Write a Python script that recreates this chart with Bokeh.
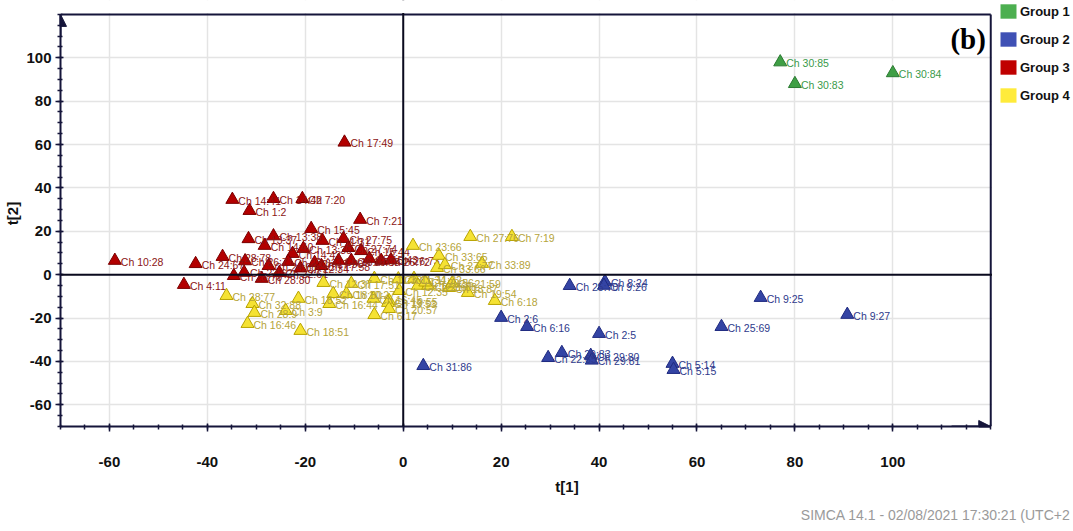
from bokeh.plotting import figure
from bokeh.models import (Range1d, FixedTicker, Span, Label, Legend, LegendItem,
                          Arrow, NormalHead, ColumnDataSource, Title, BoxAnnotation)
from bokeh.core.properties import value
from bokeh.embed import file_html
from bokeh.resources import INLINE

NAN = float("nan")

# ---------------- data ----------------
g1_x = [77.0, 80.0, 100.0]
g1_y = [98.0, 88.0, 93.0]
g1_labels = ["Ch 30:85", "Ch 30:83", "Ch 30:84"]

g2_x = [34.0, 41.2, 41.0, 20.0, 25.3, 40.0, 29.6, 32.4, 38.3, 38.5, 4.1, 55.0, 55.2, 73.0, 65.0, 90.7]
g2_y = [-5.1, -3.2, -5.0, -19.8, -24.0, -27.2, -38.3, -36.0, -37.3, -39.5, -42.0, -41.0, -43.8, -10.6, -24.0, -18.4]
g2_labels = ["Ch 25:70", "Ch 8:24", "Ch 9:26", "Ch 2:6", "Ch 6:16", "Ch 2:5", "Ch 22:65", "Ch 29:83",
             "Ch 29:80", "Ch 29:81", "Ch 31:86", "Ch 5:14", "Ch 5:15", "Ch 9:25", "Ch 25:69", "Ch 9:27"]

g3_x = [-58.9, -44.8, -42.4, -36.9, -34.6, -32.5, -32.3, -31.6, -34.9, -26.5, -20.6, -31.4, -8.8, -12.0,
        -18.8, -26.5, -28.3, -28.9, -27.5, -25.3, -22.6, -20.4, -16.5, -18.1, -16.7, -13.2, -12.2, -11.2,
        -10.6, -8.6, -6.9, -4.5, -2.5, -21.0, -23.5]
g3_y = [6.5, -4.6, 5.0, 8.3, -0.5, 1.0, 6.3, 16.5, 34.6, 35.0, 35.0, 29.5, 25.4, 61.0,
        21.2, 17.8, 13.4, -1.8, 4.1, 0.9, 9.7, 12.0, 15.7, 5.5, 4.1, 6.5, 16.6, 12.4,
        6.5, 11.0, 7.4, 6.5, 6.8, 3.0, 6.0]
g3_labels = ["Ch 10:28", "Ch 4:11", "Ch 24:67", "Ch 28:78", "Ch 28:79", "Ch 23:62", "Ch 26:71", "Ch 13:37",
             "Ch 14:41", "Ch 14:42", "Ch 7:20", "Ch 1:2", "Ch 7:21", "Ch 17:49", "Ch 15:45", "Ch 13:38",
             "Ch 14:40", "Ch 28:80", "Ch 24:68", "Ch 22:61", "Ch 14:43", "Ch 13:39", "Ch 11:31", "Ch 17:50",
             "Ch 17:58", "Ch 16:47", "Ch 27:75", "Ch 27:74", "Ch 16:48", "Ch 15:44", "Ch 15:43", "Ch 26:72",
             "Ch 26:73", "Ch 12:34", "Ch 23:63"]

g4_x = [2.0, 13.7, 22.2, 7.3, 6.9, 16.1, 8.5, 2.2, 3.0, 5.1, 9.4, 13.2, 18.7, -5.9, -0.8, -6.1, -2.9,
        -5.9, -36.1, -30.8, -30.4, -31.8, -24.0, -21.4, -21.0, -16.3, -15.1, -14.3, -11.6, -10.6, -3.1,
        -2.9, 10.0, 4.5, -1.0]
g4_y = [13.4, 17.5, 17.5, 8.8, 3.2, 5.1, 4.5, -1.8, -5.0, -5.0, -6.0, -8.3, -12.0, -1.8, -7.4, -11.0, -12.0,
        -18.5, -9.7, -13.4, -17.5, -22.6, -16.6, -11.0, -25.8, -3.7, -13.4, -8.8, -8.8, -4.1, -12.9,
        -15.7, -4.0, -3.5, -2.0]
g4_labels = ["Ch 23:66", "Ch 27:76", "Ch 7:19", "Ch 33:65", "Ch 33:66", "Ch 33:89", "Ch 27:77", "Ch 11:32",
             "Ch 12:36", "Ch 21:58", "Ch 18:87", "Ch 19:54", "Ch 6:18", "Ch 11:33", "Ch 12:35", "Ch 16:45",
             "Ch 19:55", "Ch 6:17", "Ch 28:77", "Ch 32:88", "Ch 28:9", "Ch 16:46", "Ch 3:9", "Ch 18:52",
             "Ch 18:51", "Ch 12:37", "Ch 16:44", "Ch 18:50", "Ch 10:27", "Ch 17:51", "Ch 19:53", "Ch 20:57",
             "Ch 21:59", "Ch 20:56", "Ch 11:34"]

group_names = ["Group 1", "Group 2", "Group 3", "Group 4"]
x_ticks = [-60, -40, -20, 0, 20, 40, 60, 80, 100]
y_ticks = [-60, -40, -20, 0, 20, 40, 60, 80, 100]
x_lo, x_hi = -70, 120   # axis extent
y_lo, y_hi = -70, 120
footer_text = "SIMCA 14.1 - 02/08/2021 17:30:21 (UTC+2"

# ---------------- styling ----------------
FONT = "Liberation Sans"
NAVY = "#15153a"
fills = ["#3f9f45", "#3444a4", "#b30000", "#f5e233"]
lines = ["#2b7a32", "#1f2a80", "#7a0000", "#b8a300"]
txt_cols = ["#3a9a4a", "#2e3a8c", "#8b1414", "#b5a43a"]
legend_cols = ["#4caf50", "#3f51b5", "#c00000", "#ffeb3b"]

# the frame covers the whole width/top so the legend can sit in the upper-right corner;
# the axes themselves stop at x_hi / y_hi
p = figure(width=1073, height=531, x_range=Range1d(x_lo, 136.9), y_range=Range1d(y_lo, 126.4),
           output_backend="svg", toolbar_location=None,
           min_border_left=60, min_border_right=0, min_border_top=0, min_border_bottom=105)
p.background_fill_color = "white"
p.border_fill_color = "white"
p.outline_line_color = None

for ax, ticks, bnds in ((p.xaxis, x_ticks, (x_lo, x_hi)), (p.yaxis, y_ticks, (y_lo, y_hi))):
    ax.ticker = FixedTicker(ticks=ticks, minor_ticks=list(range(bnds[0], bnds[1] + 1, 5)))
    ax.bounds = bnds
    ax.major_label_overrides = {t: str(t) for t in ticks}
    ax.axis_line_color = NAVY
    ax.axis_line_width = 2
    ax.major_tick_line_color = NAVY
    ax.major_tick_line_width = 1.5
    ax.minor_tick_line_color = NAVY
    ax.minor_tick_line_width = 1.5
    ax.major_tick_out = 5
    ax.major_tick_in = 3
    ax.minor_tick_out = 3
    ax.minor_tick_in = 2
    ax.major_label_text_font = FONT
    ax.major_label_text_font_style = "bold"
    ax.major_label_text_font_size = "15px"
    ax.major_label_text_color = "#111111"
    ax.axis_label_text_font = FONT
    ax.axis_label_text_font_style = "bold"
    ax.axis_label_text_font_size = "15px"
    ax.axis_label_text_color = "#111111"

p.xaxis.axis_label = "t[1]"
p.yaxis.axis_label = "t[2]"
p.xaxis.major_label_standoff = 25
p.xaxis.axis_label_standoff = 8
p.yaxis.major_label_standoff = 4
p.yaxis.axis_label_standoff = 2

p.xgrid.grid_line_color = "#e4e4e4"
p.ygrid.grid_line_color = "#e4e4e4"
p.xgrid.grid_line_width = 1.5
p.ygrid.grid_line_width = 1.5

p.add_layout(Span(location=0, dimension="height", line_color="#0a0a1e", line_width=2))
p.add_layout(Span(location=0, dimension="width", line_color="#0a0a1e", line_width=2))

# blank out the strips outside the plotting box (top and right)
p.add_layout(BoxAnnotation(bottom=y_hi + 0.6, fill_color="white", fill_alpha=1, line_color=None))
p.add_layout(BoxAnnotation(left=x_hi + 0.25, fill_color="white", fill_alpha=1, line_color=None))

# top and right border of the plotting box
p.segment(x0=[x_lo, x_hi], y0=[y_hi, y_hi], x1=[x_hi, x_hi], y1=[y_hi, y_lo],
          line_color=NAVY, line_width=2)

groups = [(g1_x, g1_y, g1_labels), (g2_x, g2_y, g2_labels),
          (g3_x, g3_y, g3_labels), (g4_x, g4_y, g4_labels)]
for i, (gx, gy, gl) in enumerate(groups):
    src = ColumnDataSource(dict(x=gx, y=gy, label=gl))
    p.scatter("x", "y", source=src, marker="triangle", size=13,
              fill_color=fills[i], line_color=lines[i], line_width=1)
    p.text("x", "y", text="label", source=src, x_offset=6, y_offset=1,
           text_baseline="middle", text_align="left",
           text_font=value(FONT), text_font_size="10.5px", text_color=txt_cols[i])

# legend in the upper-right corner
items = []
for i, name in enumerate(group_names):
    r = p.quad(left=[NAN], right=[NAN], top=[NAN], bottom=[NAN],
               fill_color=legend_cols[i], line_color=None)
    items.append(LegendItem(label=name, renderers=[r]))
legend = Legend(items=items, location=(938, 322), orientation="vertical",
                background_fill_alpha=0, border_line_alpha=0, padding=0, margin=0,
                spacing=10, glyph_width=20, glyph_height=18, label_height=18,
                label_standoff=2, label_text_font=FONT, label_text_font_style="bold",
                label_text_font_size="13px", label_text_color="#111111")
p.add_layout(legend)

# axis arrows
p.add_layout(Arrow(end=NormalHead(size=12, fill_color=NAVY, line_color=NAVY),
                   x_start=x_lo, y_start=y_hi - 10, x_end=x_lo, y_end=y_hi, line_color=NAVY, line_width=2))
p.add_layout(Arrow(end=NormalHead(size=12, fill_color=NAVY, line_color=NAVY),
                   x_start=x_hi - 8, y_start=y_lo, x_end=x_hi, y_end=y_lo, line_color=NAVY, line_width=2))

p.add_layout(Label(x=119, y=108.5, text="(b)", text_align="right", text_baseline="middle",
                   text_font="Liberation Serif", text_font_style="bold", text_font_size="29px",
                   text_color="#000000"))

p.add_layout(Title(text=footer_text, align="right", offset=3, standoff=14,
                   text_font=FONT, text_font_style="normal", text_font_size="14px",
                   text_color="#9a9a9a"), "below")

open("out.html", "w").write(file_html(p, INLINE))
